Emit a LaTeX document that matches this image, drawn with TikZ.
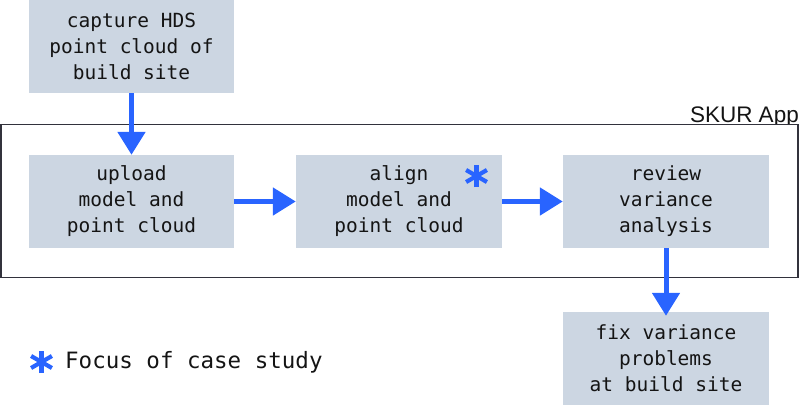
\documentclass[tikz,border=0pt]{standalone}
\usepackage{fontspec}
\setmainfont{Liberation Sans}
\newfontfamily\monofont{DejaVu Sans Mono}
\usetikzlibrary{arrows.meta}
\definecolor{boxfill}{RGB}{204,214,226}
\definecolor{flowblue}{RGB}{41,100,255}
\definecolor{ink}{RGB}{20,20,20}
\definecolor{frame}{RGB}{50,50,60}
\tikzset{
  stepbox/.style={fill=boxfill, draw=none, minimum width=205pt, minimum height=93pt,
    inner sep=0pt, align=center, text=ink, font=\monofont\fontsize{19.5}{26}\selectfont},
  flow/.style={draw=flowblue, line width=5pt, -{Triangle[width=27pt,length=23pt]}},
  astarm/.style={draw=flowblue, line width=4.2pt},
  pics/asterisk/.style={code={
    \path[astarm] (90:#1) -- (270:#1);
    \path[astarm] (30:#1+1) -- (210:#1+1);
    \path[astarm] (150:#1+1) -- (330:#1+1);
  }}
}
\begin{document}
\begin{tikzpicture}[x=1pt,y=-1pt]
\useasboundingbox (0,0) rectangle (800,405);
% app frame label (drawn first so the frame hides its descenders)
\node[anchor=base east, inner sep=0pt, text=ink, font=\fontsize{22.5}{26}\selectfont] (applabel) at (799,122) {SKUR App};
\node[draw=frame, fill=white, line width=1.3pt, minimum width=797pt, minimum height=153pt, inner sep=0pt] (app) at (399.5,201) {};
% steps
\node[stepbox] (capture) at (131.5,46.5) {capture HDS\\point cloud of\\build site};
\node[stepbox] (upload) at (131.5,201.5) {upload\\model and\\point cloud};
\node[stepbox, minimum width=206pt] (align) at (399,201.5) {align\\model and\\point cloud};
\node[stepbox, minimum width=206pt] (review) at (666,201.5) {review\\variance\\analysis};
\node[stepbox, minimum width=206pt] (fix) at (666,358.5) {fix variance\\problems\\at build site};
% connectors
\draw[flow] (capture.south) -- (upload.north);
\draw[flow] (upload.east) -- (align.west);
\draw[flow] (align.east) -- (review.west);
\draw[flow] (review.south) -- ([yshift=-4pt]fix.north);
% focus marker
\pic at (476.5,176) {asterisk=11};
% legend
\pic at (41.5,362) {asterisk=11};
\node[anchor=west, inner sep=0pt, text=ink, font=\monofont\fontsize{22.5}{26}\selectfont] (legend) at (65,362) {Focus of case study};
\end{tikzpicture}
\end{document}
